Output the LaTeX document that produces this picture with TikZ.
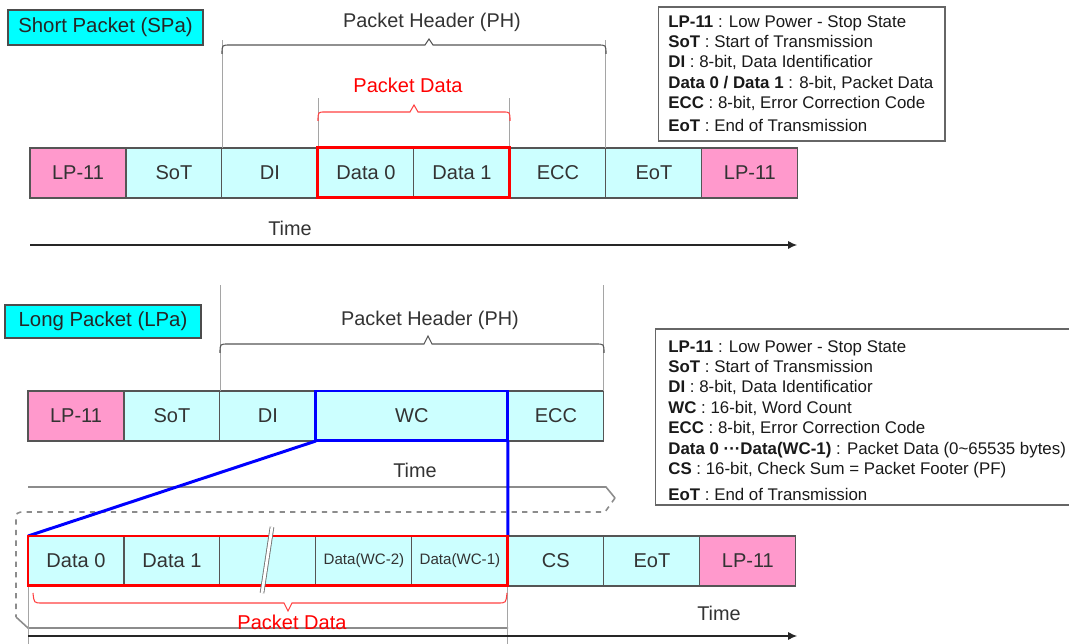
\documentclass[tikz,border=0pt]{standalone}
\usepackage{fontspec}
\setmainfont{Liberation Sans}
\usetikzlibrary{positioning,arrows.meta}

\definecolor{lpPink}{RGB}{255,153,204}
\definecolor{cellCyan}{RGB}{204,255,255}
\definecolor{tagCyan}{RGB}{0,255,255}
\definecolor{lineGrey}{RGB}{85,85,85}
\definecolor{guideGrey}{RGB}{165,165,165}
\definecolor{pktRed}{RGB}{255,0,0}
\definecolor{wcBlue}{RGB}{0,0,255}

\tikzset{
  cell/.style={draw=lineGrey, fill=cellCyan, line width=0.6pt, minimum width=1.92cm,
    minimum height=1cm, inner sep=0pt, outer sep=0pt, anchor=north west,
    text=black!80, font=\fontsize{11.4}{13}\selectfont},
  lpcell/.style={cell, fill=lpPink},
  smallcell/.style={cell, font=\fontsize{8.6}{10}\selectfont},
  tagbox/.style={draw=black!70, fill=tagCyan, line width=0.7pt, inner sep=0pt,
    text=black!85, font=\fontsize{11.6}{13}\selectfont},
  headtext/.style={text=black!80, font=\fontsize{11.3}{13}\selectfont},
  redtext/.style={text=pktRed, font=\fontsize{11.4}{13}\selectfont},
  keybox/.style={draw=black!60, line width=0.6pt, inner sep=0pt},
  keytext/.style={anchor=north west, align=left, inner sep=0pt, text=black!90,
    font=\fontsize{9.6}{11.6}\selectfont},
  guide/.style={draw=guideGrey, line width=0.5pt},
  bracepath/.style={draw=lineGrey, line width=0.6pt},
  redbrace/.style={draw=pktRed!75, line width=0.6pt},
  redframe/.style={draw=pktRed, line width=1.7pt},
  blueframe/.style={draw=wcBlue, line width=1.7pt},
  timearrow/.style={draw=black!85, line width=0.6pt, -{Latex[length=5pt,width=4.5pt]}},
  outline/.style={draw=black!45, line width=0.9pt}
}

\begin{document}
\begin{tikzpicture}[x=0.02cm, y=-0.02cm]
\useasboundingbox (0,0) rectangle (1069,644);
\clip (0,0) rectangle (1069,644);

% Short packet
\node[tagbox, minimum width=3.9cm, minimum height=0.7cm] (spa) at (105.5,27.5) {Short Packet (SPa)};

\node[lpcell] (sLP) at (30,148) {LP-11};
\node[cell, right=0pt of sLP] (sSoT) {SoT};
\node[cell, right=0pt of sSoT] (sDI) {DI};
\node[cell, right=0pt of sDI] (sD0) {Data 0};
\node[cell, right=0pt of sD0] (sD1) {Data 1};
\node[cell, right=0pt of sD1] (sECC) {ECC};
\node[cell, right=0pt of sECC] (sEoT) {EoT};
\node[lpcell, right=0pt of sEoT] (sLPe) {LP-11};

% header and data braces
\draw[guide] (sDI.north west) -- ++(0,-108);
\draw[guide] (sECC.north east) -- ++(0,-108);
\draw[guide] (sD0.north west) -- ++(0,-50);
\draw[guide] (sD1.north east) -- ++(0,-50);
\draw[bracepath] (222,54) .. controls (222,45) .. (230,45) -- (425,45) -- (429,39) -- (433,45) -- (598,45) .. controls (606,45) .. (606,54);
\node[headtext] (sPH) at (432,22) {Packet Header (PH)};
\draw[redbrace] (318,121) .. controls (318,112) .. (325,112) -- (410,112) -- (414,105) -- (418,112) -- (503,112) .. controls (510,112) .. (510,121);
\node[redtext] (sPD) at (408,85) {Packet Data};
\draw[redframe] (sD0.north west) rectangle (sD1.south east);

% Time
\coordinate (sT0) at (30,245);
\coordinate (sT1) at (797,245);
\draw[timearrow] (sT0) -- (sT1);
\node[headtext] (sTime) at (290,228) {Time};

% Legend
\node[keybox, minimum width=5.74cm, minimum height=2.68cm] (key1) at (801.5,74) {};
\node[keytext] (key1txt) at (668,15) {\textbf{LP-11} : Low Power - Stop State\\
\textbf{SoT} : Start of Transmission\\
\textbf{DI} : 8-bit, Data Identificatior\\
\textbf{Data 0 / Data 1} : 8-bit, Packet Data\\
\textbf{ECC} : 8-bit, Error Correction Code\\[1.5pt]
\textbf{EoT} : End of Transmission};

% Long packet
\node[tagbox, minimum width=3.92cm, minimum height=0.66cm] (lpa) at (103,321.5) {Long Packet (LPa)};

\node[lpcell] (lLP) at (28,391) {LP-11};
\node[cell, right=0pt of lLP] (lSoT) {SoT};
\node[cell, right=0pt of lSoT] (lDI) {DI};
\node[cell, right=0pt of lDI, minimum width=3.84cm] (lWC) {WC};
\node[cell, right=0pt of lWC] (lECC) {ECC};

\draw[guide] (lDI.north west) -- ++(0,-106);
\draw[guide] (lECC.north east) -- ++(0,-106);
\draw[bracepath] (220,353) .. controls (220,344) .. (228,344) -- (424,344) -- (428,336) -- (432,344) -- (596,344) .. controls (604,344) .. (604,353);
\node[headtext] (lPH) at (430,320) {Packet Header (PH)};
\node[headtext] (lTime) at (415,470) {Time};

% cut-away outline
\draw[outline] (28,487) -- (606,487) -- (615,498);
\draw[outline, dashed] (615,498) -- (605,512) -- (26,512) .. controls (16,512) .. (16,523) -- (16,617);
\draw[outline] (16,617) -- (28,628) -- (508,628);

% payload row
\node[cell] (bD0) at (28,536) {Data 0};
\node[cell, right=0pt of bD0] (bD1) {Data 1};
\node[cell, right=0pt of bD1] (bGap) {};
\node[smallcell, right=0pt of bGap] (bD2) {Data(WC-2)};
\node[smallcell, right=0pt of bD2] (bD3) {Data(WC-1)};
\node[cell, right=0pt of bD3] (bCS) {CS};
\node[cell, right=0pt of bCS] (bEoT) {EoT};
\node[lpcell, right=0pt of bEoT] (bLP) {LP-11};

\draw[guide] (bD0.south west) -- ++(0,60);
\draw[guide] (bD3.south east) -- ++(0,60);
\draw[blueframe] (lWC.north west) rectangle (lWC.south east);
\draw[blueframe] (lWC.south west) -- (bD0.north west);
\draw[blueframe] (lWC.south east) -- (bD3.north east);
\draw[redframe] (bD0.north west) rectangle (bD3.south east);

\coordinate (brk1) at (272,527);
\coordinate (brk2) at (262,593);
\draw[draw=black!55, line width=0.5pt, double=white, double distance=1.6pt] (brk1) -- (brk2);

\draw[redbrace] (33,593) .. controls (34,603) .. (42,603) -- (284,603) -- (288,611) -- (292,603) -- (498,603) .. controls (506,603) .. (507,593);
\node[redtext] (bPD) at (292,622) {Packet Data};

\coordinate (bT0) at (28,636);
\coordinate (bT1) at (797,636);
\draw[timearrow] (bT0) -- (bT1);
\node[headtext] (bTime) at (719,613) {Time};

% Legend
\node[keybox, minimum width=8.6cm, minimum height=3.52cm] (key2) at (870,417) {};
\node[keytext] (key2txt) at (668,340) {\textbf{LP-11} : Low Power - Stop State\\
\textbf{SoT} : Start of Transmission\\
\textbf{DI} : 8-bit, Data Identificatior\\
\textbf{WC} : 16-bit, Word Count\\
\textbf{ECC} : 8-bit, Error Correction Code\\
\textbf{Data 0 ···Data(WC-1)} : Packet Data (0\textasciitilde 65535 bytes)\\
\textbf{CS} : 16-bit, Check Sum = Packet Footer (PF)\\[3pt]
\textbf{EoT} : End of Transmission};
\end{tikzpicture}
\end{document}
